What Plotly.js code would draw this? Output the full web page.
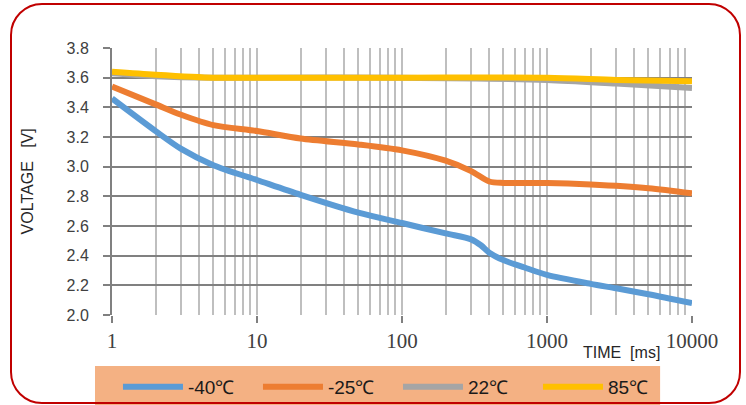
<!DOCTYPE html>
<html>
<head>
<meta charset="utf-8">
<script src="https://cdn.plot.ly/plotly-3.0.1.min.js"></script>
<style>
  html, body { margin: 0; padding: 0; background: #ffffff; }
  #wrap { position: relative; width: 746px; height: 405px; overflow: hidden; }
  #chart { width: 746px; height: 405px; }
  #frame { position: absolute; left: 10px; top: 3px; width: 727px; height: 397px;
           border: 2px solid #c00000; border-radius: 32px; pointer-events: none; }
</style>
</head>
<body>
<div id="wrap">
  <div id="chart"></div>
  <div id="frame"></div>
</div>
<script>
// Series names
const seriesNames = ["-40℃", "-25℃", "22℃", "85℃"];

// Time [ms] and voltage [V] per series
const timeM40 = [1, 2, 3, 5, 10, 20, 50, 100, 200, 300, 350, 400, 500, 700, 1000, 2000, 3000, 5000, 10000];
const voltM40 = [3.46, 3.24, 3.12, 3.01, 2.91, 2.81, 2.69, 2.62, 2.55, 2.51, 2.47, 2.42, 2.37, 2.32, 2.27, 2.21, 2.18, 2.14, 2.08];

const timeM25 = [1, 2, 3, 5, 10, 20, 50, 100, 200, 300, 400, 500, 1000, 2000, 5000, 10000];
const voltM25 = [3.54, 3.42, 3.35, 3.28, 3.24, 3.19, 3.15, 3.11, 3.04, 2.97, 2.90, 2.89, 2.89, 2.88, 2.855, 2.82];

const timeP22 = [1, 2, 5, 10, 100, 1000, 3000, 10000];
const voltP22 = [3.63, 3.61, 3.60, 3.60, 3.60, 3.585, 3.56, 3.53];

const timeP85 = [1, 2, 5, 10, 100, 1000, 3000, 10000];
const voltP85 = [3.64, 3.62, 3.60, 3.60, 3.60, 3.60, 3.585, 3.575];

const colors = ["#5b9bd5", "#ed7d31", "#a5a5a5", "#ffc000"];

const xTickVals = [1, 10, 100, 1000, 10000];
const xTickText = ["1", "10", "100", "1000", "10000"];

const xs = [timeM40, timeM25, timeP22, timeP85];
const ys = [voltM40, voltM25, voltP22, voltP85];

const traces = xs.map((x, i) => ({
  x: x, y: ys[i], name: seriesNames[i], type: "scatter", mode: "lines",
  line: { color: colors[i], width: 6, shape: "spline", smoothing: 0.8 },
  hoverinfo: "skip"
}));

const layout = {
  width: 746, height: 405,
  margin: { l: 112, r: 54, t: 48, b: 90, autoexpand: false },
  paper_bgcolor: "rgba(0,0,0,0)",
  plot_bgcolor: "#ffffff",
  showlegend: true,
  xaxis: {
    type: "log", range: [0, 4],
    tickvals: xTickVals, ticktext: xTickText,
    showgrid: true, gridcolor: "#bfbfbf", gridwidth: 2,
    minor: { dtick: "D1", showgrid: true, gridcolor: "#bfbfbf", gridwidth: 2, ticks: "" },
    ticks: "outside", ticklen: 7, tickwidth: 2, tickcolor: "#808080",
    showline: false, zeroline: false,
    tickfont: { family: "Liberation Serif, serif", size: 21, color: "#404040" },
    fixedrange: true
  },
  yaxis: {
    range: [2.0, 3.8], dtick: 0.2, tick0: 2.0, tickformat: ".1f",
    showgrid: true, gridcolor: "#808080", gridwidth: 2,
    ticks: "outside", ticklen: 7, tickwidth: 2, tickcolor: "#808080",
    showline: true, linecolor: "#808080", linewidth: 2,
    zeroline: false,
    tickfont: { family: "Liberation Sans, Arial, sans-serif", size: 16, color: "#404040" },
    ticklabelstandoff: 11,
    fixedrange: true
  },
  legend: {
    orientation: "h", x: 0.0103, xanchor: "left", y: -0.198, yanchor: "top",
    bgcolor: "rgba(0,0,0,0)", borderwidth: 0,
    font: { family: "Liberation Sans, Arial, sans-serif", size: 19, color: "#1a1a1a" },
    itemwidth: 60, entrywidth: 65, entrywidthmode: "pixels",
    traceorder: "normal", itemclick: false, itemdoubleclick: false
  },
  shapes: [{
    type: "rect", xref: "paper", yref: "paper", layer: "below",
    x0: -0.0293, x1: 0.945, y0: -0.36, y1: -0.191,
    fillcolor: "#f4b183", line: { width: 0 }
  }],
  annotations: [
    { text: "VOLTAGE   [V]", textangle: -90, xref: "paper", yref: "paper",
      x: -0.145, y: 0.5, xanchor: "center", yanchor: "middle", showarrow: false,
      font: { family: "Liberation Sans, Arial, sans-serif", size: 16, color: "#262626" } },
    { text: "TIME  [ms]", xref: "paper", yref: "paper",
      x: 0.8776, y: -0.142, xanchor: "center", yanchor: "middle", showarrow: false,
      font: { family: "Liberation Sans, Arial, sans-serif", size: 16, color: "#262626" } }
  ]
};

Plotly.newPlot("chart", traces, layout, { displayModeBar: false, staticPlot: true });
</script>
</body>
</html>
